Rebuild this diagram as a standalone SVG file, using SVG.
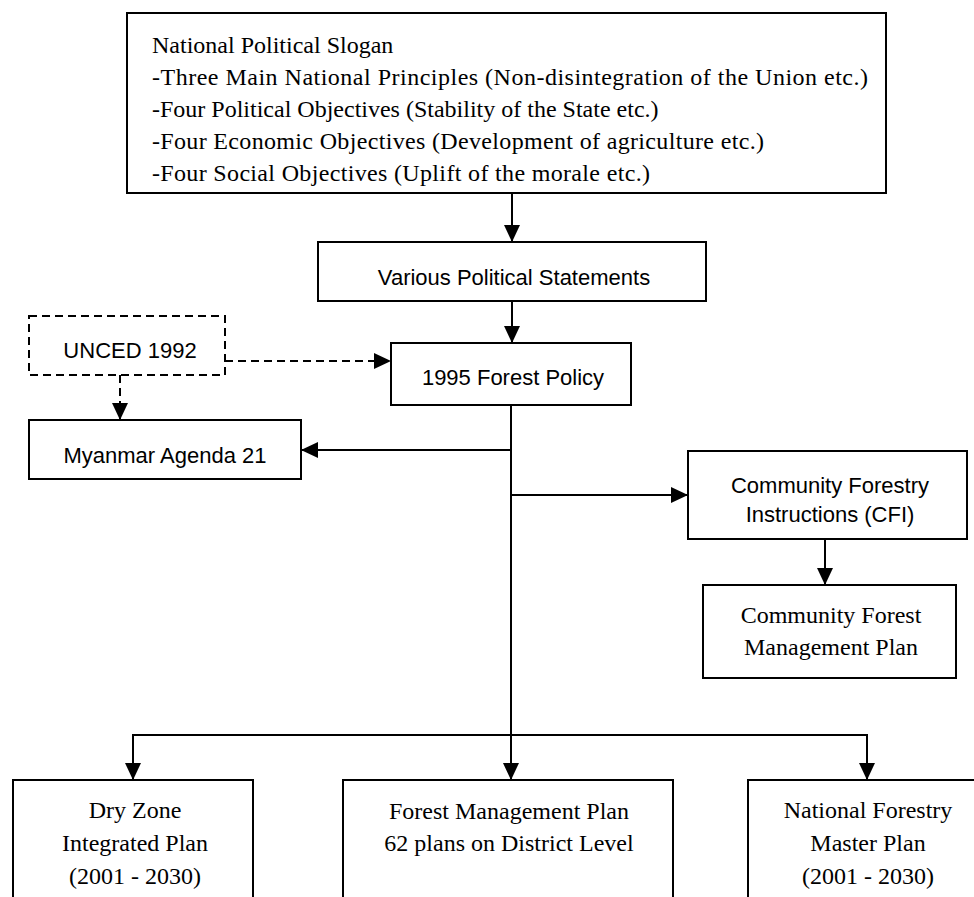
<svg xmlns="http://www.w3.org/2000/svg" width="974" height="897" viewBox="0 0 974 897">
<defs>
<style>
.box{fill:#fff;stroke:#000;stroke-width:2}
.dbox{fill:#fff;stroke:#000;stroke-width:2;stroke-dasharray:8 5}
.ln{fill:none;stroke:#000;stroke-width:2}
.dl{fill:none;stroke:#000;stroke-width:2;stroke-dasharray:8 5}
.serif{font-family:"Liberation Serif","Times New Roman",serif;font-size:24px;fill:#000}
.sans{font-family:"Liberation Sans",Arial,sans-serif;font-size:22px;fill:#000}
.c{text-anchor:middle}
</style>
<marker id="ah" viewBox="0 0 17 16" refX="17" refY="8" markerWidth="17" markerHeight="16" markerUnits="userSpaceOnUse" orient="auto">
<path d="M0,0 L17,8 L0,16 Z" fill="#000"/>
</marker>
</defs>
<rect width="974" height="897" fill="#fff"/>
<g id="connectors">
<path class="ln" d="M512,193 V242" marker-end="url(#ah)"/>
<path class="ln" d="M512,301 V343" marker-end="url(#ah)"/>
<path class="dl" d="M225,361 H391" marker-end="url(#ah)"/>
<path class="dl" d="M120,375 V420" marker-end="url(#ah)"/>
<path class="ln" d="M511,405 V780" marker-end="url(#ah)"/>
<path class="ln" d="M511,450 H301" marker-end="url(#ah)"/>
<path class="ln" d="M511,495 H688" marker-end="url(#ah)"/>
<path class="ln" d="M825,539 V585" marker-end="url(#ah)"/>
<path class="ln" d="M511,735 H133 V780" marker-end="url(#ah)"/>
<path class="ln" d="M511,735 H867 V780" marker-end="url(#ah)"/>
</g>
<g id="slogan">
<rect class="box" x="127" y="13" width="759" height="180"/>
<text class="serif" x="152" y="53">National Political Slogan</text>
<text class="serif" x="152" y="85" textLength="716" lengthAdjust="spacing">-Three Main National Principles (Non-disintegration of the Union etc.)</text>
<text class="serif" x="152" y="117">-Four Political Objectives (Stability of the State etc.)</text>
<text class="serif" x="152" y="149" textLength="612" lengthAdjust="spacing">-Four Economic Objectives (Development of agriculture etc.)</text>
<text class="serif" x="152" y="181" textLength="498" lengthAdjust="spacing">-Four Social Objectives (Uplift of the morale etc.)</text>
</g>
<g id="statements">
<rect class="box" x="318" y="242" width="388" height="59"/>
<text class="sans c" x="514" y="285">Various Political Statements</text>
</g>
<g id="unced">
<rect class="dbox" x="29" y="316" width="196" height="59"/>
<text class="sans c" x="130" y="358">UNCED 1992</text>
</g>
<g id="forest-policy">
<rect class="box" x="391" y="343" width="240" height="62"/>
<text class="sans c" x="513" y="385">1995 Forest Policy</text>
</g>
<g id="agenda21">
<rect class="box" x="29" y="420" width="272" height="59"/>
<text class="sans c" x="165" y="463">Myanmar Agenda 21</text>
</g>
<g id="cfi">
<rect class="box" x="688" y="451" width="279" height="88"/>
<text class="sans c" x="830" y="493">Community Forestry</text>
<text class="sans c" x="830" y="522">Instructions (CFI)</text>
</g>
<g id="cfmp">
<rect class="box" x="703" y="585" width="253" height="93"/>
<text class="serif c" x="831" y="623">Community Forest</text>
<text class="serif c" x="831" y="655">Management Plan</text>
</g>
<g id="dry-zone">
<rect class="box" x="13" y="780" width="240" height="130"/>
<text class="serif c" x="135" y="818">Dry Zone</text>
<text class="serif c" x="135" y="851">Integrated Plan</text>
<text class="serif c" x="135" y="884">(2001 - 2030)</text>
</g>
<g id="fmp">
<rect class="box" x="343" y="780" width="330" height="130"/>
<text class="serif c" x="509" y="819">Forest Management Plan</text>
<text class="serif c" x="509" y="851">62 plans on District Level</text>
</g>
<g id="nfmp">
<rect class="box" x="748" y="780" width="240" height="130"/>
<text class="serif c" x="868" y="818">National Forestry</text>
<text class="serif c" x="868" y="851">Master Plan</text>
<text class="serif c" x="868" y="884">(2001 - 2030)</text>
</g>
</svg>
